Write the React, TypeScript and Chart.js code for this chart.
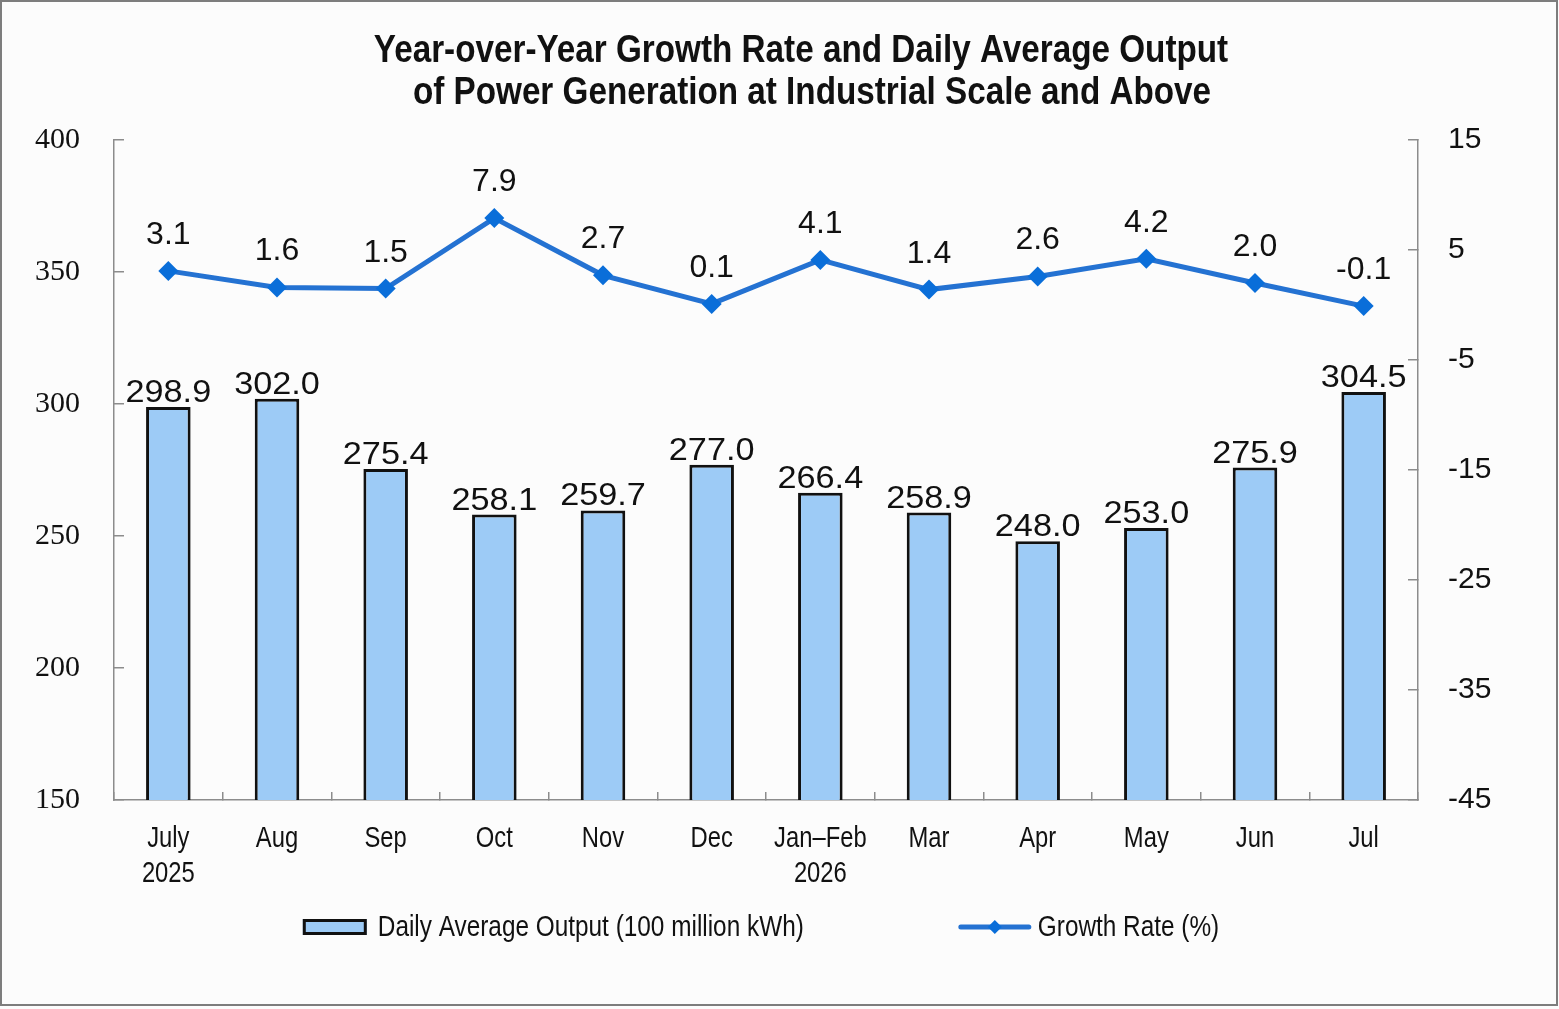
import React, { useEffect, useRef } from 'react';
import { Chart, registerables } from 'chart.js';

Chart.register(...registerables);

// data
const months = [
  ['July', '2025'],
  'Aug',
  'Sep',
  'Oct',
  'Nov',
  'Dec',
  ['Jan\u2013Feb', '2026'],
  'Mar',
  'Apr',
  'May',
  'Jun',
  'Jul',
];
const dailyOutput = [298.9, 302.0, 275.4, 258.1, 259.7, 277.0, 266.4, 258.9, 248.0, 253.0, 275.9, 304.5];
const growthRate = [3.1, 1.6, 1.5, 7.9, 2.7, 0.1, 4.1, 1.4, 2.6, 4.2, 2.0, -0.1];
const outputTicks = [150, 400, 50]; // min, max, step
const rateTicks = [-45, 15, 10];

const titleLines = [
  'Year-over-Year Growth Rate and Daily Average Output',
  'of Power Generation at Industrial Scale and Above',
];

const W = 1559;
const H = 1009;
const BAR_FILL = '#9dcbf6';
const LINE_COLOR = '#2472d2';
const POINT_COLOR = '#0a6ed9';
const AXIS_COLOR = '#8c8c8c';
const SANS = '"Liberation Sans", Arial, sans-serif';
const SERIF = '"Liberation Serif", "Times New Roman", serif';
const NARROW_SCALE = 0.82; // no narrow face installed, so squeeze Liberation Sans

// draw text scaled horizontally, anchored at x
function narrowText(ctx: CanvasRenderingContext2D, txt: string, x: number, y: number, sx = NARROW_SCALE) {
  ctx.save();
  ctx.translate(x, y);
  ctx.scale(sx, 1);
  ctx.fillText(txt, 0, 0);
  ctx.restore();
}

const backgroundPlugin = {
  id: 'bg',
  beforeDraw(chart: any) {
    const ctx = chart.ctx;
    ctx.save();
    ctx.fillStyle = '#fcfcfc';
    ctx.fillRect(0, 0, chart.width, chart.height);
    ctx.strokeStyle = '#7d7d7d';
    ctx.lineWidth = 2;
    ctx.strokeRect(1, 1, chart.width - 3, chart.height - 5);
    ctx.restore();
  },
};

const titlePlugin = {
  id: 'twoLineTitle',
  afterDraw(chart: any) {
    const ctx = chart.ctx;
    ctx.save();
    ctx.fillStyle = '#111';
    ctx.font = `bold 38px ${SANS}`;
    ctx.textAlign = 'center';
    ctx.textBaseline = 'alphabetic';
    narrowText(ctx, titleLines[0], 801, 62, 0.875);
    narrowText(ctx, titleLines[1], 812, 104, 0.875);
    ctx.restore();
  },
};

const xLabelPlugin = {
  id: 'xLabels',
  afterDraw(chart: any) {
    const ctx = chart.ctx;
    const xs = chart.scales.x;
    ctx.save();
    ctx.fillStyle = '#111';
    ctx.font = `29px ${SANS}`;
    ctx.textAlign = 'center';
    ctx.textBaseline = 'alphabetic';
    chart.data.labels.forEach((lab: any, i: number) => {
      const lines = Array.isArray(lab) ? lab : [lab];
      const px = xs.getPixelForValue(i);
      lines.forEach((ln: string, k: number) => {
        narrowText(ctx, ln, px, xs.top + 47 + k * 35);
      });
    });
    ctx.restore();
  },
};

const valueLabelPlugin = {
  id: 'valueLabels',
  afterDatasetsDraw(chart: any) {
    const ctx = chart.ctx;
    ctx.save();
    ctx.fillStyle = '#111';
    ctx.font = `32px ${SANS}`;
    ctx.textAlign = 'center';
    ctx.textBaseline = 'alphabetic';
    chart.data.datasets.forEach((ds: any, i: number) => {
      const meta = chart.getDatasetMeta(i);
      meta.data.forEach((el: any, j: number) => {
        const txt = Number(ds.data[j]).toFixed(1);
        if (ds.type === 'bar') {
          narrowText(ctx, txt, el.x, el.y - 5, 1.07);
        } else {
          ctx.fillText(txt, el.x, el.y - 27);
        }
      });
    });
    ctx.restore();
  },
};

const legendPlugin = {
  id: 'bottomLegend',
  afterDraw(chart: any) {
    const ctx = chart.ctx;
    const area = chart.chartArea;
    const barDs = chart.data.datasets[1];
    const lineDs = chart.data.datasets[0];
    const sx = 0.84;
    ctx.save();
    ctx.font = `29px ${SANS}`;
    ctx.textBaseline = 'middle';
    ctx.textAlign = 'left';
    const w1 = ctx.measureText(barDs.label).width * sx;
    const w2 = ctx.measureText(lineDs.label).width * sx;
    const total = 64 + 11 + w1 + 157 + 68 + 9 + w2;
    let x = (area.left + area.right) / 2 - 5 - total / 2;
    const y = 927;

    ctx.fillStyle = BAR_FILL;
    ctx.fillRect(x, y - 8, 64, 16);
    ctx.strokeStyle = '#111';
    ctx.lineWidth = 3;
    ctx.strokeRect(x + 1.5, y - 6.5, 61, 13);
    x += 64 + 11;
    ctx.fillStyle = '#111';
    narrowText(ctx, barDs.label, x, y + 1, sx);
    x += w1 + 157;

    ctx.strokeStyle = LINE_COLOR;
    ctx.lineWidth = 5;
    ctx.lineCap = 'round';
    ctx.beginPath();
    ctx.moveTo(x, y);
    ctx.lineTo(x + 68, y);
    ctx.stroke();
    ctx.fillStyle = POINT_COLOR;
    ctx.beginPath();
    ctx.moveTo(x + 34, y - 7);
    ctx.lineTo(x + 41, y);
    ctx.lineTo(x + 34, y + 7);
    ctx.lineTo(x + 27, y);
    ctx.closePath();
    ctx.fill();
    x += 68 + 9;
    ctx.fillStyle = '#111';
    narrowText(ctx, lineDs.label, x, y + 1, sx);
    ctx.restore();
  },
};

export default function App() {
  const canvasRef = useRef<HTMLCanvasElement | null>(null);

  useEffect(() => {
    document.body.style.margin = '0';
    const canvas = canvasRef.current;
    if (!canvas) return;
    const ctx = canvas.getContext('2d');
    if (!ctx) return;

    const chart = new Chart(ctx, {
      data: {
        labels: months,
        datasets: [
          {
            type: 'line',
            label: 'Growth Rate (%)',
            data: growthRate,
            yAxisID: 'y1',
            borderColor: LINE_COLOR,
            borderWidth: 5,
            pointStyle: 'rectRot',
            pointRadius: 10,
            pointBackgroundColor: POINT_COLOR,
            pointBorderWidth: 0,
            tension: 0,
            order: 0,
          },
          {
            type: 'bar',
            label: 'Daily Average Output (100 million kWh)',
            data: dailyOutput,
            yAxisID: 'y',
            backgroundColor: BAR_FILL,
            borderColor: '#111',
            borderWidth: 3,
            borderSkipped: false,
            categoryPercentage: 1,
            barPercentage: 0.41,
            order: 1,
          },
        ] as any,
      },
      options: {
        responsive: false,
        maintainAspectRatio: false,
        animation: false,
        layout: { padding: { top: 140, left: 0, right: 0, bottom: 0 } },
        plugins: {
          legend: { display: false },
          title: { display: false },
          tooltip: { enabled: false },
        },
        scales: {
          x: {
            grid: {
              offset: true,
              drawOnChartArea: false,
              tickLength: -8,
              color: AXIS_COLOR,
              lineWidth: 1.5,
            },
            border: { color: AXIS_COLOR, width: 1.5 },
            ticks: { display: false, autoSkip: false },
            afterFit: (s: any) => {
              s.height = H - 800;
            },
          },
          y: {
            position: 'left',
            min: outputTicks[0],
            max: outputTicks[1],
            ticks: {
              stepSize: outputTicks[2],
              color: '#111',
              font: { family: SERIF, size: 30 },
              padding: 44,
            },
            grid: { drawOnChartArea: false, tickLength: -10, color: AXIS_COLOR, lineWidth: 1.5 },
            border: { color: AXIS_COLOR, width: 1.5 },
            afterFit: (s: any) => {
              s.width = 114;
            },
          },
          y1: {
            position: 'right',
            min: rateTicks[0],
            max: rateTicks[1],
            ticks: {
              stepSize: rateTicks[2],
              color: '#111',
              font: { family: SANS, size: 30 },
              padding: 40,
            },
            grid: { drawOnChartArea: false, tickLength: -10, color: AXIS_COLOR, lineWidth: 1.5 },
            border: { color: AXIS_COLOR, width: 1.5 },
            afterFit: (s: any) => {
              s.width = W - 1418;
            },
          },
        },
      } as any,
      plugins: [backgroundPlugin, titlePlugin, xLabelPlugin, valueLabelPlugin, legendPlugin],
    });

    return () => {
      chart.destroy();
    };
  }, []);

  return (
    <div style={{ width: W, height: H }}>
      <canvas ref={canvasRef} width={W} height={H} style={{ display: 'block' }}></canvas>
    </div>
  );
}
